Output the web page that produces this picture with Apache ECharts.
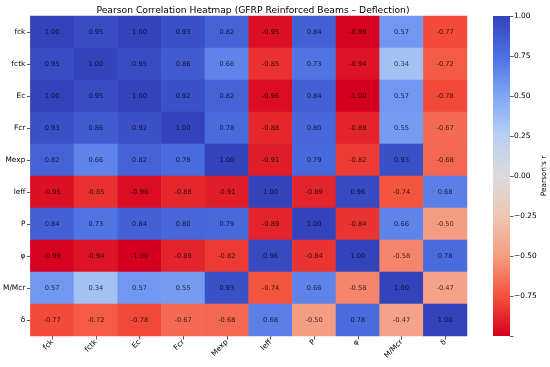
<!DOCTYPE html>
<html>
<head>
<meta charset="utf-8">
<script src="https://cdn.jsdelivr.net/npm/echarts@6/dist/echarts.min.js"></script>
<style>html,body{margin:0;padding:0;background:#fff}#c{width:550px;height:367px}</style>
</head>
<body>
<div id="c"></div>
<script>
const variables = ['fck','fctk','Ec','Fcr','Mexp','leff','P','φ','M/Mcr','δ'];
const rowFck  = [1.00, 0.95, 1.00, 0.93, 0.82, -0.95, 0.84, -0.99, 0.57, -0.77];
const rowFctk = [0.95, 1.00, 0.95, 0.86, 0.66, -0.85, 0.73, -0.94, 0.34, -0.72];
const rowEc   = [1.00, 0.95, 1.00, 0.92, 0.82, -0.96, 0.84, -1.00, 0.57, -0.78];
const rowFcr  = [0.93, 0.86, 0.92, 1.00, 0.78, -0.88, 0.80, -0.89, 0.55, -0.67];
const rowMexp = [0.82, 0.66, 0.82, 0.78, 1.00, -0.91, 0.79, -0.82, 0.93, -0.68];
const rowLeff = [-0.95, -0.85, -0.96, -0.88, -0.91, 1.00, -0.89, 0.96, -0.74, 0.68];
const rowP    = [0.84, 0.73, 0.84, 0.80, 0.79, -0.89, 1.00, -0.84, 0.66, -0.50];
const rowPhi  = [-0.99, -0.94, -1.00, -0.89, -0.82, 0.96, -0.84, 1.00, -0.58, 0.78];
const rowMMcr = [0.57, 0.34, 0.57, 0.55, 0.93, -0.74, 0.66, -0.58, 1.00, -0.47];
const rowDelta= [-0.77, -0.72, -0.78, -0.67, -0.68, 0.68, -0.50, 0.78, -0.47, 1.00];
const colorbarTicks = [-0.75, -0.50, -0.25, 0.00, 0.25, 0.50, 0.75, 1.00];

const matrix = [rowFck,rowFctk,rowEc,rowFcr,rowMexp,rowLeff,rowP,rowPhi,rowMMcr,rowDelta];
const cells = [];
matrix.forEach((row, yi) => row.forEach((v, xi) => cells.push([xi, yi, v])));

// colormap stops at -1, -0.75, ..., 1
const cmap = ['#d5001f','#f4523c','#f59d82','#efc6b3','#dcdbdb','#b9cff3','#80a7f5','#4c70e2','#3343bc'];

const FONT = 'DejaVu Sans';
const chart = echarts.init(document.getElementById('c'), null, {renderer:'canvas'});
chart.setOption({
  animation: false,
  textStyle: {fontFamily: FONT},
  title: {
    text: 'Pearson Correlation Heatmap (GFRP Reinforced Beams – Deflection)',
    left: 248, top: 1, textAlign: 'center',
    textStyle: {fontFamily: FONT, fontSize: 9.2, fontWeight: 'normal', color: '#000'}
  },
  grid: [
    {left: 30, top: 16, width: 437, height: 320},
    {left: 493, top: 16, width: 17, height: 320}
  ],
  xAxis: [
    {type: 'category', data: variables, gridIndex: 0, position: 'bottom',
     axisLine: {show: false}, splitLine: {show: false},
     axisTick: {show: true, alignWithLabel: true, length: 3.5, lineStyle: {color: '#333', width: 0.8}},
     axisLabel: {rotate: 45, fontSize: 7.4, color: '#000', fontFamily: FONT, margin: 5, interval: 0}},
    {type: 'category', data: ['r'], gridIndex: 1, show: false}
  ],
  yAxis: [
    {type: 'category', data: variables, gridIndex: 0, inverse: true,
     axisLine: {show: false}, splitLine: {show: false},
     axisTick: {show: true, alignWithLabel: true, length: 3.5, lineStyle: {color: '#333', width: 0.8}},
     axisLabel: {fontSize: 7.4, color: '#000', fontFamily: FONT, margin: 5, interval: 0}},
    {type: 'value', gridIndex: 1, min: -1, max: 1, interval: 0.25, position: 'right',
     name: "Pearson's r", nameLocation: 'middle', nameRotate: 90, nameGap: 29,
     nameTextStyle: {fontSize: 7.4, color: '#000', fontFamily: FONT},
     axisLine: {show: false}, splitLine: {show: false},
     axisTick: {show: true, length: 3.5, lineStyle: {color: '#333', width: 0.8}},
     axisLabel: {fontSize: 7.4, color: '#000', fontFamily: FONT, margin: 4,
       formatter: v => (colorbarTicks.some(t => Math.abs(t - v) < 1e-9) ? v.toFixed(2).replace('-', '\u2212') : '')}}
  ],
  visualMap: {
    type: 'continuous', min: -1, max: 1, show: false, seriesIndex: 0, dimension: 2,
    inRange: {color: cmap}
  },
  series: [
    {type: 'heatmap', xAxisIndex: 0, yAxisIndex: 0, data: cells,
     label: {show: true, fontSize: 6.7, fontFamily: FONT, color: 'rgba(0,0,0,0.78)',
       formatter: p => p.value[2].toFixed(2)},
     itemStyle: {borderWidth: 0},
     emphasis: {disabled: true}},
    {type: 'bar', xAxisIndex: 1, yAxisIndex: 1, data: [1], barWidth: '100%', barGap: '-100%',
     itemStyle: {color: new echarts.graphic.LinearGradient(0, 0, 0, 1, [
       {offset: 0, color: cmap[8]}, {offset: 0.25, color: cmap[7]}, {offset: 0.5, color: cmap[6]},
       {offset: 0.75, color: cmap[5]}, {offset: 1, color: cmap[4]}])}},
    {type: 'bar', xAxisIndex: 1, yAxisIndex: 1, data: [-1], barWidth: '100%', barGap: '-100%',
     itemStyle: {color: new echarts.graphic.LinearGradient(0, 0, 0, 1, [
       {offset: 0, color: cmap[4]}, {offset: 0.25, color: cmap[3]}, {offset: 0.5, color: cmap[2]},
       {offset: 0.75, color: cmap[1]}, {offset: 1, color: cmap[0]}])}}
  ]
});
</script>
</body>
</html>
